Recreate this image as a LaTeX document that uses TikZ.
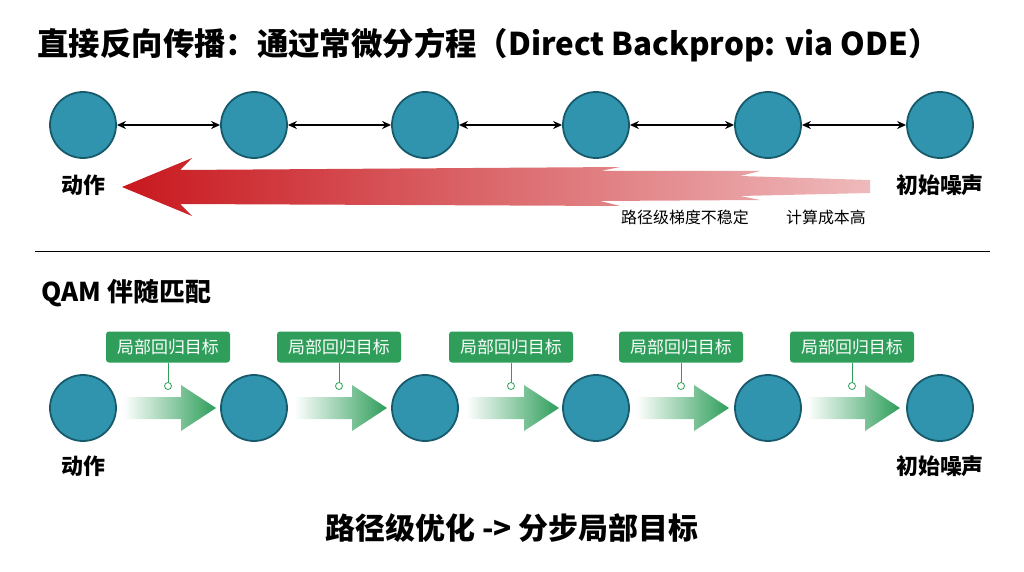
\documentclass[tikz,border=0pt]{standalone}
\usepackage{fontspec}
\setmainfont{Noto Sans CJK SC}
\usetikzlibrary{arrows.meta}
\definecolor{node_fill}{RGB}{48, 148, 174}
\definecolor{node_line}{RGB}{22, 90, 108}
\definecolor{tag_green}{RGB}{46, 158, 90}
\definecolor{grad_red}{RGB}{200, 24, 30}

\tikzset{
  state/.style={circle, draw=node_line, line width=1.8pt, fill=node_fill, minimum size=66bp, inner sep=0pt},
  lbl/.style={font=\bfseries\fontsize{22}{26}\selectfont},
  tag/.style={fill=tag_green, rounded corners=3bp, text=white, minimum width=124bp, minimum height=31bp, inner sep=2bp, font=\fontsize{17}{20}\selectfont},
  note/.style={font=\fontsize{16}{19}\selectfont},
}

\begin{document}
\begin{tikzpicture}[x=1bp, y=-1bp]
\useasboundingbox (0,0) rectangle (1024,572);

\node[anchor=west, font=\bfseries\fontsize{31.5}{36}\selectfont] (title) at (34,45) {直接反向传播：通过常微分方程（Direct Backprop: via ODE）};

% upper chain
\foreach \i/\x in {1/83, 2/254, 3/425, 4/596, 5/768, 6/940}
  \node[state] (u\i) at (\x,125) {};
\foreach \i [evaluate=\i as \j using int(\i+1)] in {1,...,5}
  \draw[{Stealth[length=9bp,width=8bp]}-{Stealth[length=9bp,width=8bp]}, line width=1.3pt] (u\i) -- (u\j);

\node[lbl] (ua) at (83,185) {动作};
\node[lbl] (un) at (940,185) {初始噪声};

% red gradient arrow
\shade[left color=grad_red, right color=grad_red!30]
  (870,180) -- (740,176) -- (760,171) -- (600,171) -- (620,167) -- (180,170)
  -- (192,158) -- (122,187) -- (192,216) -- (180,204) -- (620,206) -- (600,201)
  -- (760,200) -- (740,196) -- (870,193) -- cycle;

\node[note] (n1) at (685,217) {路径级梯度不稳定};
\node[note] (n2) at (826,217) {计算成本高};

\coordinate (sl) at (35,251);
\coordinate (sr) at (990,251);
\draw[thin] (sl) -- (sr);

\node[anchor=west, font=\bfseries\fontsize{26}{30}\selectfont] (qam) at (38,293) {QAM 伴随匹配};

% lower chain
\foreach \i/\x in {1/83, 2/254, 3/425, 4/596, 5/768, 6/940}
  \node[state] (d\i) at (\x,408) {};
\foreach \i/\x in {1/168, 2/339, 3/511, 4/681, 5/852} {
  \node[tag] (t\i) at (\x,347) {局部回归目标};
  \coordinate (p\i) at (\x,386);
  \draw[tag_green, thick] (t\i) -- (p\i);
  \draw[tag_green, thick, fill=white] (p\i) circle (3.5bp);
  \shade[left color=white, right color=tag_green]
    (\x-45,397) -- (\x+13,397) -- (\x+13,385) -- (\x+48,408)
    -- (\x+13,431) -- (\x+13,419) -- (\x-45,419) -- cycle;
}

\node[lbl] (da) at (83,466) {动作};
\node[lbl] (dn) at (940,466) {初始噪声};

\node[font=\bfseries\fontsize{30}{34}\selectfont] (sum) at (512,528) {路径级优化 -> 分步局部目标};

\end{tikzpicture}
\end{document}
